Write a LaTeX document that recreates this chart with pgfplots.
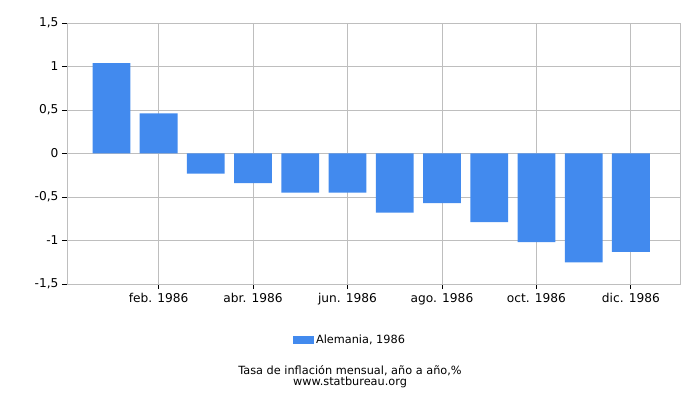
\documentclass[border=0pt]{standalone}
\usepackage{pgfplots}
\pgfplotsset{compat=1.18}
\usepackage{fontspec}
\setmainfont{DejaVu Sans}
\definecolor{barblue}{HTML}{428AEE}
\definecolor{gridgray}{HTML}{BEBEBE}
\begin{document}
\begin{tikzpicture}
\useasboundingbox (-67bp,-116bp) rectangle (633bp,284bp);
\begin{axis}[
  name=ax, at={(0,0)}, anchor=south west,
  scale only axis, width=613bp, height=261bp,
  xmin=-0.94, xmax=12.04, ymin=-1.5, ymax=1.5,
  ybar, bar width=0.8, bar shift=0pt,
  xtick={1,3,5,7,9,11},
  xticklabels={feb. 1986,abr. 1986,jun. 1986,ago. 1986,oct. 1986,dic. 1986},
  ytick={-1.5,-1,-0.5,0,0.5,1,1.5},
  yticklabels={{-1,5},{-1},{-0,5},{0},{0,5},{1},{1,5}},
  tick label style={font=\fontsize{12.2bp}{14bp}\selectfont},
  xmajorgrids, ymajorgrids,
  grid style={gridgray, line width=0.8pt},
  axis line style={gridgray, line width=0.8pt},
  tick align=outside, tick pos=left,
  major tick length=5bp,
  tick style={black, line width=0.8pt},
  xticklabel style={yshift=-1bp},
  yticklabel style={xshift=0bp},
  legend style={at={(0.4617,-0.2146)}, anchor=center, draw=none, fill=none,
    font=\fontsize{11.3bp}{13bp}\selectfont, inner sep=0pt},
  legend image code/.code={\fill[barblue] (0bp,-3.5bp) rectangle (21bp,4bp);},
]
\addplot[fill=barblue, draw=none] coordinates {
(0,1.04) (1,0.46) (2,-0.23) (3,-0.34) (4,-0.45) (5,-0.45)
(6,-0.68) (7,-0.57) (8,-0.79) (9,-1.02) (10,-1.25) (11,-1.13)};
\addlegendentry{Alemania, 1986}
\end{axis}
\node[font=\fontsize{11.3bp}{13bp}\selectfont, inner sep=0pt] at (283bp,-86.5bp) {Tasa de inflación mensual, año a año,\%};
\node[font=\fontsize{11.3bp}{13bp}\selectfont, inner sep=0pt] at (283bp,-98bp) {www.statbureau.org};
\end{tikzpicture}
\end{document}
